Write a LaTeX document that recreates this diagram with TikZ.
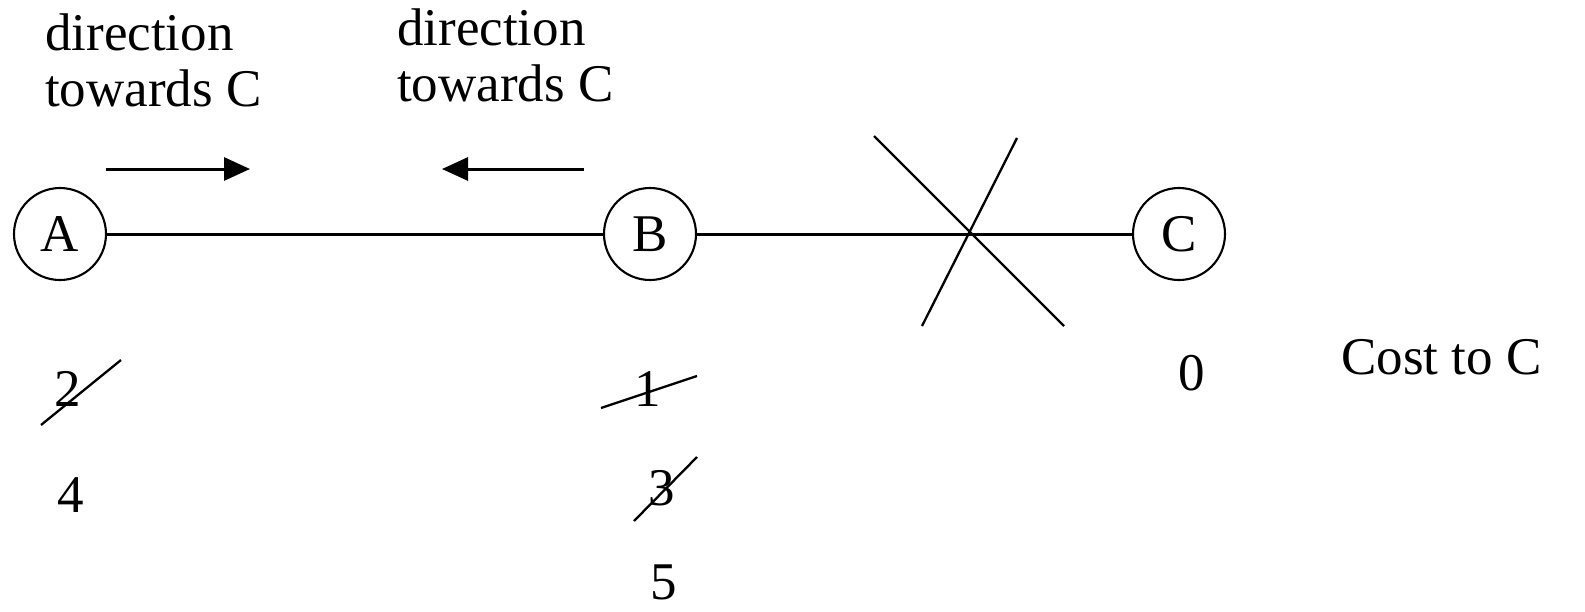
\documentclass[tikz,border=0pt]{standalone}
\usepackage{fontspec}
\setmainfont{Liberation Serif}
\usetikzlibrary{arrows.meta}
\begin{document}
\begin{tikzpicture}[x=1pt,y=-1pt,
  every node/.style={font=\fontsize{53}{61}\selectfont, inner sep=0pt},
  vertex/.style={circle, draw, line width=2.1pt, minimum size=92pt},
  edge/.style={line width=3pt},
  dirarrow/.style={line width=3pt, -{Triangle[length=26pt,width=23pt]}},
  strike/.style={line width=2.3pt},
  lbl/.style={anchor=base west},
  num/.style={anchor=base}]
\useasboundingbox (0,0) rectangle (1585,611);
% vertices
\node[vertex] (A) at (60,234) {A};
\node[vertex] (B) at (650,234) {B};
\node[vertex] (C) at (1179,234) {C};
\draw[edge] (A) -- (B);
\draw[edge] (B) -- (C);
% broken link
\coordinate (x1) at (874,136);
\coordinate (x2) at (1064,326);
\coordinate (x3) at (1017,138);
\coordinate (x4) at (922,326);
\draw[strike] (x1) -- (x2);
\draw[strike] (x3) -- (x4);
% direction labels
\node[lbl] (d1a) at (45,50) {direction};
\node[lbl] (d1b) at (45,106) {towards C};
\node[lbl] (d2a) at (397,45) {direction};
\node[lbl] (d2b) at (397,101) {towards C};
\coordinate (r1s) at (106,169);
\coordinate (r1e) at (250,169);
\coordinate (l1s) at (584,169);
\coordinate (l1e) at (442,169);
\draw[dirarrow] (r1s) -- (r1e);
\draw[dirarrow] (l1s) -- (l1e);
% costs
\node[num] (n2) at (68,406) {2};
\node[num] (n4) at (71,512) {4};
\node[num] (n1) at (648,406) {1};
\node[num] (n3) at (662,505) {3};
\node[num] (n5) at (664,599) {5};
\node[num] (n0) at (1192,390) {0};
\node[lbl] (cost) at (1341,374) {Cost to C};
% strike-outs
\coordinate (s2a) at (41,425);
\coordinate (s2b) at (121,360);
\coordinate (s1a) at (601,408);
\coordinate (s1b) at (697,376);
\coordinate (s3a) at (634,521);
\coordinate (s3b) at (697,457);
\draw[strike] (s2a) -- (s2b);
\draw[strike] (s1a) -- (s1b);
\draw[strike] (s3a) -- (s3b);
\end{tikzpicture}
\end{document}
